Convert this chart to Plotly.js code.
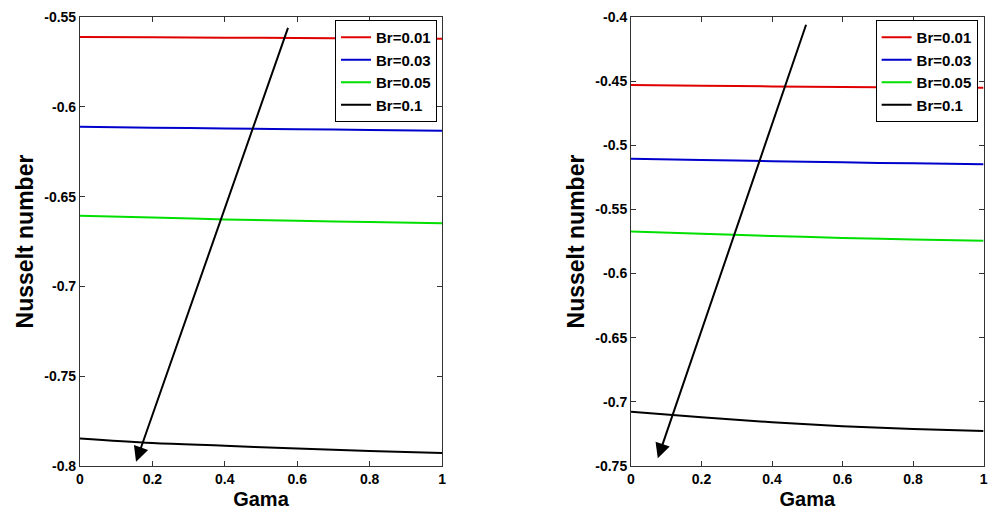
<!DOCTYPE html>
<html>
<head>
<meta charset="utf-8">
<script src="https://cdn.plot.ly/plotly-3.0.1.min.js"></script>
<style>html,body{margin:0;padding:0;background:#fff;}#chart{width:992px;height:516px;}</style>
</head>
<body>
<div id="chart"></div>
<script>
// Gama values
const gama = [0, 0.2, 0.4, 0.6, 0.8, 1.0];
const seriesNames = ['Br=0.01', 'Br=0.03', 'Br=0.05', 'Br=0.1'];
const seriesColors = ['#e00000', '#0000cc', '#00e000', '#000000'];

// Left panel: Nusselt number
const leftBr001 = [-0.5611, -0.5613, -0.5615, -0.5617, -0.5619, -0.5621];
const leftBr003 = [-0.6111, -0.6116, -0.6121, -0.6125, -0.6129, -0.6133];
const leftBr005 = [-0.6607, -0.6617, -0.6627, -0.6635, -0.6642, -0.6649];
const leftBr01  = [-0.7847, -0.7872, -0.7887, -0.7903, -0.7916, -0.7927];

// Right panel: Nusselt number
const rightBr001 = [-0.4531, -0.4536, -0.4541, -0.4545, -0.4549, -0.4552];
const rightBr003 = [-0.5104, -0.5114, -0.5124, -0.5133, -0.5141, -0.5148];
const rightBr005 = [-0.5672, -0.5690, -0.5707, -0.5722, -0.5734, -0.5745];
const rightBr01  = [-0.7077, -0.7120, -0.7159, -0.7190, -0.7211, -0.7227];

// Tick labels
const xTickVals = [0, 0.2, 0.4, 0.6, 0.8, 1];
const xTickText = ['0', '0.2', '0.4', '0.6', '0.8', '1'];
const leftYTickVals = [-0.8, -0.75, -0.7, -0.65, -0.6, -0.55];
const leftYTickText = ['-0.8', '-0.75', '-0.7', '-0.65', '-0.6', '-0.55'];
const rightYTickVals = [-0.75, -0.7, -0.65, -0.6, -0.55, -0.5, -0.45, -0.4];
const rightYTickText = ['-0.75', '-0.7', '-0.65', '-0.6', '-0.55', '-0.5', '-0.45', '-0.4'];

// Arrows: [tailX, tailY, headX, headY]
const leftArrow = [0.576, -0.5552, 0.155, -0.7976];
const rightArrow = [0.498, -0.4049, 0.076, -0.744];

const leftSeries = [leftBr001, leftBr003, leftBr005, leftBr01];
const rightSeries = [rightBr001, rightBr003, rightBr005, rightBr01];

const bold = arr => arr.map(t => '<b>' + t + '</b>');

const traces = [];
leftSeries.forEach((ys, i) => traces.push({
  x: gama, y: ys, type: 'scatter', mode: 'lines', name: '<b>' + seriesNames[i] + '</b>',
  line: {color: seriesColors[i], width: 2, shape: 'spline'},
  xaxis: 'x', yaxis: 'y', legend: 'legend'
}));
rightSeries.forEach((ys, i) => traces.push({
  x: gama, y: ys, type: 'scatter', mode: 'lines', name: '<b>' + seriesNames[i] + '</b>',
  line: {color: seriesColors[i], width: 2, shape: 'spline'},
  xaxis: 'x2', yaxis: 'y2', legend: 'legend2'
}));

const fam = 'Liberation Sans, Arial, sans-serif';
const tickFont = {family: fam, size: 14, color: '#000', weight: 'bold'};
const xTitleFont = {family: fam, size: 20, color: '#000'};
const yTitleFont = {family: fam, size: 23, color: '#000'};
const axCommon = {
  showline: true, linecolor: '#333', linewidth: 1, mirror: 'ticks',
  ticks: 'inside', ticklen: 5, tickcolor: '#333',
  showgrid: false, zeroline: false, tickfont: tickFont, automargin: false,
  ticklabeloverflow: 'allow'
};

const legendCommon = {
  bgcolor: '#fff', bordercolor: '#000', borderwidth: 1,
  font: {family: fam, size: 15, color: '#000'},
  xanchor: 'right', yanchor: 'top', tracegroupgap: 0, itemwidth: 30
};

const layout = {
  width: 992, height: 516,
  margin: {l: 0, r: 0, t: 17, b: 50},
  paper_bgcolor: '#fff', plot_bgcolor: '#fff',
  showlegend: true,
  xaxis: Object.assign({}, axCommon, {domain: [0.0806, 0.4456], range: [0, 1],
    tickvals: xTickVals, ticktext: bold(xTickText), anchor: 'y',
    title: {text: '<b>Gama</b>', font: xTitleFont, standoff: 6}}),
  yaxis: Object.assign({}, axCommon, {domain: [0, 1], range: [-0.8, -0.55],
    tickvals: leftYTickVals, ticktext: bold(leftYTickText), anchor: 'x',
    title: {text: '<b>Nusselt number</b>', font: yTitleFont, standoff: 4}}),
  xaxis2: Object.assign({}, axCommon, {domain: [0.6361, 0.9915], range: [0, 1],
    tickvals: xTickVals, ticktext: bold(xTickText), anchor: 'y2',
    title: {text: '<b>Gama</b>', font: xTitleFont, standoff: 6}}),
  yaxis2: Object.assign({}, axCommon, {domain: [0, 1], range: [-0.75, -0.4],
    tickvals: rightYTickVals, ticktext: bold(rightYTickText), anchor: 'x2',
    title: {text: '<b>Nusselt number</b>', font: yTitleFont, standoff: 4}}),
  legend: Object.assign({}, legendCommon, {x: 0.4405, y: 0.9933}),
  legend2: Object.assign({}, legendCommon, {x: 0.9855, y: 0.9933}),
  annotations: [
    {xref: 'x', yref: 'y', axref: 'x', ayref: 'y',
     x: leftArrow[2], y: leftArrow[3], ax: leftArrow[0], ay: leftArrow[1],
     showarrow: true, arrowhead: 2, arrowsize: 1.5, arrowwidth: 2, arrowcolor: '#000', text: ''},
    {xref: 'x2', yref: 'y2', axref: 'x2', ayref: 'y2',
     x: rightArrow[2], y: rightArrow[3], ax: rightArrow[0], ay: rightArrow[1],
     showarrow: true, arrowhead: 2, arrowsize: 1.5, arrowwidth: 2, arrowcolor: '#000', text: ''}
  ]
};

Plotly.newPlot('chart', traces, layout, {displayModeBar: false, staticPlot: true});
</script>
</body>
</html>
